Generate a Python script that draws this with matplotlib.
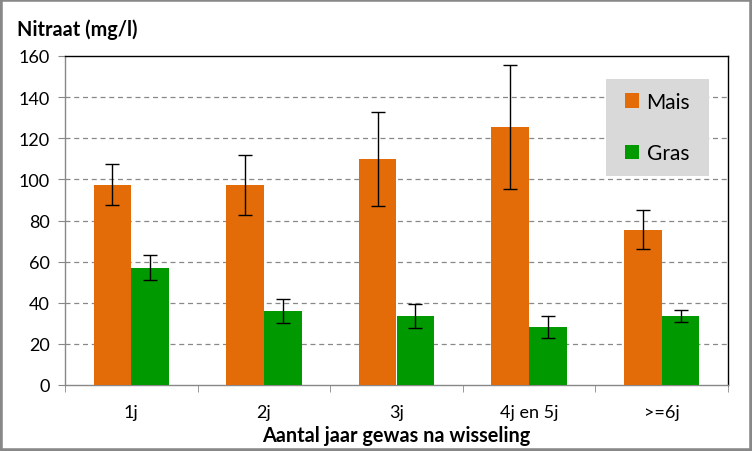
import matplotlib
matplotlib.use("Agg")
import matplotlib.pyplot as plt
import numpy as np
from matplotlib.patches import Rectangle, Patch

categories = ["1j", "2j", "3j", "4j en 5j", ">=6j"]
mais = [97.3, 97.3, 110, 125.5, 75.4]
mais_err = [10, 14.6, 23, 30, 9.5]
gras = [57, 36, 33.6, 28.2, 33.6]
gras_err = [6, 6, 5.8, 5.3, 2.9]

plt.rcParams['font.family'] = ['Lato', 'DejaVu Sans']

orange = "#E36C09"
green = "#009900"

fig = plt.figure(figsize=(7.52, 4.52), dpi=100)
ax = fig.add_axes([65/752, 1-386/452, (728-65)/752, (386-57)/452])

x = np.arange(len(categories))
w = 0.285
ax.bar(x - w/2, mais, w, color=orange, label="Mais", zorder=3)
ax.bar(x + w/2, gras, w, color=green, label="Gras", zorder=3)
ax.errorbar(x - w/2, mais, yerr=mais_err, fmt='none', ecolor='black', elinewidth=1, capsize=5, capthick=1, zorder=4)
ax.errorbar(x + w/2, gras, yerr=gras_err, fmt='none', ecolor='black', elinewidth=1, capsize=5, capthick=1, zorder=4)

ax.set_xlim(-0.5, len(categories) - 0.5)
ax.set_ylim(0, 160)
ax.set_yticks(np.arange(0, 161, 20))
ax.set_xticks(x)
ax.set_xticklabels(categories, fontsize=13)
ax.set_xticks(np.arange(-0.5, len(categories), 1), minor=True)
ax.tick_params(axis='x', which='major', length=0, pad=14)
ax.tick_params(axis='x', which='minor', length=5, color='#888888', direction='out')
ax.tick_params(axis='y', labelsize=13, length=5, color='#888888', direction='out', pad=6)

for yv in range(20, 160, 20):
    ax.axhline(yv, color='#888888', linestyle=(0, (4, 3)), linewidth=0.9, zorder=1)

ax.spines['left'].set_color('#888888')
ax.spines['bottom'].set_color('#888888')
ax.spines['top'].set_color('black')
ax.spines['right'].set_color('black')
for s in ax.spines.values():
    s.set_linewidth(1)

ax.set_xlabel("Aantal jaar gewas na wisseling", fontsize=14.3, fontweight='bold', labelpad=3)
fig.text(17/752, 1-30/452, "Nitraat (mg/l)", fontsize=14.3, fontweight='bold', va='center', ha='left')

# legend box
x0, x1 = (606-65)/663, (709-65)/663
y0, y1 = (386-177)/329, (386-80)/329
ax.add_patch(Rectangle((x0, y0), x1-x0, y1-y0, transform=ax.transAxes, facecolor='#d9d9d9', edgecolor='none', zorder=5))
handles = [Patch(facecolor=orange, label="Mais"), Patch(facecolor=green, label="Gras")]
leg = ax.legend(handles=handles, loc='center', bbox_to_anchor=((x0+x1)/2, (y0+y1)/2), frameon=False,
                fontsize=15, handlelength=0.7, handleheight=0.7, handletextpad=0.35, labelspacing=1.5)
leg.set_zorder(6)

# outer border
fig.patches.append(Rectangle((0, 0), 1, 1, transform=fig.transFigure, fill=False, edgecolor='#888888', linewidth=4))

fig.savefig("out.png", dpi=100)
